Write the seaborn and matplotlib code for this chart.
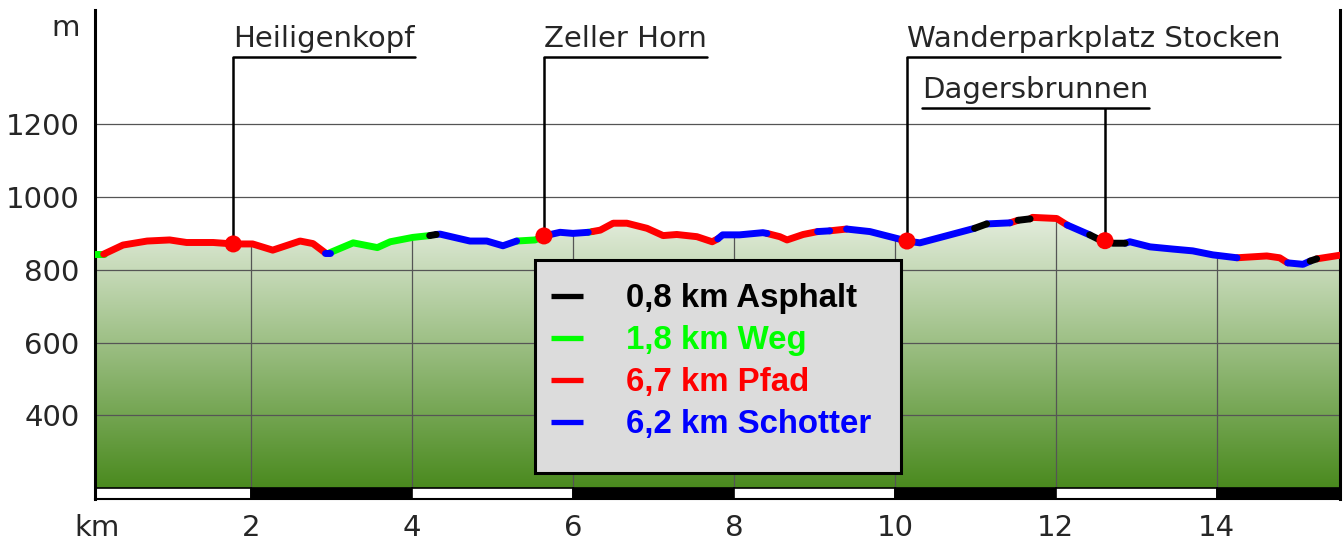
"""Elevation profile with surface types (Asphalt / Weg / Pfad / Schotter)."""

import matplotlib

matplotlib.use("Agg")

import matplotlib.pyplot as plt
import numpy as np
import pandas as pd
import seaborn as sns
from matplotlib.colors import LinearSegmentedColormap
from matplotlib.lines import Line2D
from matplotlib.patches import Rectangle

# profile: distance (km), elevation (m), surface of the stretch that starts at this point
profile_km = [0.04, 0.17, 0.41, 0.71, 0.99, 1.20, 1.53, 1.78, 2.02, 2.27,
              2.61, 2.77, 2.92, 2.98, 3.27, 3.57, 3.73, 4.01, 4.22, 4.30,
              4.35, 4.72, 4.93, 5.13, 5.30, 5.53, 5.64, 5.84, 6.00, 6.19,
              6.24, 6.34, 6.50, 6.67, 6.92, 7.12, 7.29, 7.54, 7.73, 7.80,
              7.86, 8.07, 8.36, 8.41, 8.57, 8.66, 8.86, 9.04, 9.19, 9.40,
              9.69, 10.15, 10.31, 10.60, 10.99, 11.14, 11.43, 11.53, 11.68, 11.71,
              12.01, 12.14, 12.42, 12.52, 12.61, 12.71, 12.86, 12.92, 13.17, 13.45,
              13.70, 13.95, 14.25, 14.62, 14.78, 14.88, 15.07, 15.16, 15.24, 15.53]
profile_elev = [843, 843, 868, 879, 882, 875, 875, 871, 871, 854,
                879, 872, 847, 847, 874, 861, 877, 889, 894, 897,
                898, 879, 879, 866, 879, 882, 893, 903, 900, 903,
                905, 909, 928, 928, 914, 894, 897, 891, 877, 885,
                896, 896, 902, 900, 891, 882, 897, 905, 907, 912,
                905, 879, 874, 891, 914, 926, 929, 936, 940, 944,
                941, 923, 896, 885, 880, 873, 873, 877, 863, 857,
                852, 841, 833, 838, 833, 819, 815, 824, 830, 840]
# A = Asphalt, W = Weg, P = Pfad, S = Schotter
profile_surface = ["W", "P", "P", "P", "P", "P", "P", "P", "P", "P",
                   "P", "P", "S", "W", "W", "W", "W", "W", "A", "S",
                   "S", "S", "S", "S", "W", "W", "S", "S", "S", "W",
                   "P", "P", "P", "P", "P", "P", "P", "P", "P", "S",
                   "S", "S", "S", "P", "P", "P", "P", "S", "P", "S",
                   "S", "S", "S", "S", "A", "S", "P", "A", "P", "P",
                   "P", "S", "A", "A", "A", "A", "S", "S", "S", "S",
                   "S", "S", "P", "P", "P", "S", "S", "A", "P", "P"]

surface_codes = {"A": "Asphalt", "W": "Weg", "P": "Pfad", "S": "Schotter"}
surface_names = ["Asphalt", "Weg", "Pfad", "Schotter"]
surface_lengths = ["0,8", "1,8", "6,7", "6,2"]
surface_colors = {"Asphalt": "#000000", "Weg": "#00ff00", "Pfad": "#ff0000", "Schotter": "#0000ff"}

poi_names = ["Heiligenkopf", "Zeller Horn", "Wanderparkplatz Stocken", "Dagersbrunnen"]
poi_km = [1.78, 5.64, 10.15, 12.61]
poi_elev = [871, 893, 879, 880]

y_ticks = [400, 600, 800, 1000, 1200]
x_ticks = [2, 4, 6, 8, 10, 12, 14]
scale_starts = [0, 2, 4, 6, 8, 10, 12, 14]

X_LEFT, X_RIGHT = 0.062, 15.53
Y_BOTTOM, Y_TOP = 170, 1514
BASE = 200  # bottom of the green area; below it sits the km scale bar
GRID = "#555555"
LABEL_SIZE = 21

sns.set_style("white")
plt.rcParams["font.family"] = ["DejaVu Sans"]

fig = plt.figure(figsize=(13.43, 5.45), dpi=100)
ax = fig.add_axes([95 / 1343, 1 - 499 / 545, 1245 / 1343, 489 / 545])

# green gradient under the profile
area = ax.fill_between(profile_km, profile_elev, BASE, facecolor="none", edgecolor="none")
clip_path = area.get_paths()[0]
cmap = LinearSegmentedColormap.from_list("hill", ["#4a8a1e", "#e4eddd"])
grad = np.linspace(1, 0, 256).reshape(-1, 1)
im = ax.imshow(grad, extent=[X_LEFT, X_RIGHT, BASE, max(profile_elev)], aspect="auto",
               cmap=cmap, zorder=1)
im.set_clip_path(clip_path, ax.transData)

# grid: horizontal across, vertical only inside the green area
ax.hlines(y_ticks, X_LEFT, X_RIGHT, color=GRID, lw=0.9, zorder=2)
vl = ax.vlines(x_ticks, BASE, max(profile_elev), color=GRID, lw=0.9, zorder=2)
vl.set_clip_path(clip_path, ax.transData)

# km scale bar
ax.bar(scale_starts, BASE - Y_BOTTOM, width=2, bottom=Y_BOTTOM, align="edge",
       color=["white", "black"] * 4, edgecolor="black", lw=1.2, zorder=2)

# profile line, one unit per contiguous surface run
rows = []
run = 0
for i in range(len(profile_km) - 1):
    if i > 0 and profile_surface[i] != profile_surface[i - 1]:
        run += 1
    for j in (i, i + 1):
        rows.append({"run": run, "surface": surface_codes[profile_surface[i]],
                     "km": profile_km[j], "elev": profile_elev[j]})
seg = pd.DataFrame(rows)
sns.lineplot(data=seg, x="km", y="elev", hue="surface", units="run", estimator=None,
             sort=False, palette=surface_colors, lw=5, legend=False, ax=ax, zorder=4,
             solid_capstyle="round", solid_joinstyle="round")

ax.set_xlim(X_LEFT, X_RIGHT)
ax.set_ylim(Y_BOTTOM, Y_TOP)

# points of interest with label lines
label_line_y = [1385, 1385, 1385, 1245]
label_text_x = [1.78, 5.64, 10.15, 10.34]
texts = []
for name, tx, ly in zip(poi_names, label_text_x, label_line_y):
    texts.append(ax.text(tx, ly + 27, name, fontsize=LABEL_SIZE, ha="left", va="baseline",
                         zorder=6))
fig.canvas.draw()
inv = ax.transData.inverted()
for t, px, pe, tx, ly in zip(texts, poi_km, poi_elev, label_text_x, label_line_y):
    bb = t.get_window_extent()
    x_end = inv.transform((bb.x1, 0))[0]
    ax.plot([tx, x_end], [ly, ly], color="black", lw=1.8, zorder=5)
    ax.plot([px, px], [pe, ly], color="black", lw=1.8, zorder=3,
            solid_capstyle="butt")
sns.scatterplot(x=poi_km, y=poi_elev, color="#ff0000", s=150, edgecolor="none",
                zorder=6, ax=ax)

# legend box
ax.add_patch(Rectangle((5.53, 241), 4.54, 586, facecolor="#dcdcdc", edgecolor="black",
                       lw=2.2, zorder=7))
handles = [Line2D([0], [0], color=surface_colors[s], lw=3.8, solid_capstyle="butt")
           for s in surface_names]
labels = [f"{l} km {s}" for l, s in zip(surface_lengths, surface_names)]
leg = ax.legend(handles, labels, loc="upper left", bbox_to_anchor=(0.3663, 0.441),
                frameon=False, borderpad=0, borderaxespad=0, handlelength=0.97,
                handletextpad=1.3, labelspacing=0.33,
                prop={"family": "Liberation Sans", "weight": "bold", "size": 23.8},
                labelcolor=[surface_colors[s] for s in surface_names])
leg.set_zorder(8)

# axes, ticks and units
ax.set_xticks([0.09] + x_ticks, ["km"] + [str(v) for v in x_ticks])
ax.set_yticks(y_ticks + [1473], [str(v) for v in y_ticks] + ["m"])
ax.tick_params(axis="x", length=0, pad=11, labelsize=LABEL_SIZE)
ax.tick_params(axis="y", length=0, pad=11, labelsize=LABEL_SIZE)
ax.set_xlabel("")
ax.set_ylabel("")
for side in ("left", "right"):
    ax.spines[side].set_linewidth(2.2)
    ax.spines[side].set_color("black")
ax.spines["bottom"].set_linewidth(1.5)
ax.spines["bottom"].set_color("black")
ax.spines["top"].set_visible(False)

fig.savefig("out.png", dpi=100)
